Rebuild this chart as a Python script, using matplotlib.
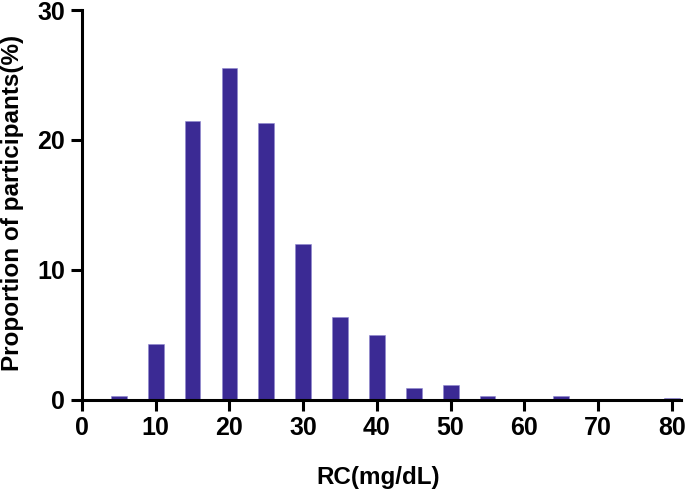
import matplotlib
matplotlib.use('Agg')
import matplotlib.pyplot as plt

# bin centres (mg/dL) and share of participants (%)
rc_bins = [5, 10, 15, 20, 25, 30, 35, 40, 45, 50, 55, 60, 65, 70, 75, 80]
proportion = [0.3, 4.3, 21.45, 25.55, 21.3, 11.95, 6.35, 5.0, 0.85, 1.15, 0.3, 0, 0.3, 0, 0, 0.12]
x_ticks = [0, 10, 20, 30, 40, 50, 60, 70, 80]
y_ticks = [0, 10, 20, 30]

plt.rcParams['font.family'] = ['Liberation Sans', 'DejaVu Sans']
plt.rcParams['font.weight'] = 'bold'

fig = plt.figure(figsize=(6.85, 4.91), dpi=100)
ax = fig.add_axes([82 / 685, 1 - 399.5 / 491, 1 - 82 / 685, 389.5 / 491])

ax.bar(rc_bins, proportion, width=2.15, color='#3b2a94', edgecolor='#8f86d0', linewidth=0.4, zorder=2)

ax.set_xlim(0, 81.8)
ax.set_ylim(0, 30)
ax.set_xticks(x_ticks)
ax.set_yticks(y_ticks)

for side in ['top', 'right']:
    ax.spines[side].set_visible(False)
for side in ['left', 'bottom']:
    ax.spines[side].set_linewidth(2.2)
    ax.spines[side].set_zorder(3)
ax.spines['bottom'].set_bounds(0, 81.2)

ax.tick_params(axis='both', width=2.2, length=8, labelsize=18)
ax.tick_params(axis='x', pad=4)
ax.tick_params(axis='y', pad=4)
for lbl in ax.get_xticklabels() + ax.get_yticklabels():
    lbl.set_fontweight('bold')

ax.set_xlabel('RC(mg/dL)', fontsize=17.5, fontweight='bold')
ax.set_ylabel('Proportion of participants(%)', fontsize=17.5, fontweight='bold')
ax.xaxis.set_label_coords(0.491, -0.172)
ax.yaxis.set_label_coords(-0.097, 0.505)

fig.savefig('out.png', dpi=100)
